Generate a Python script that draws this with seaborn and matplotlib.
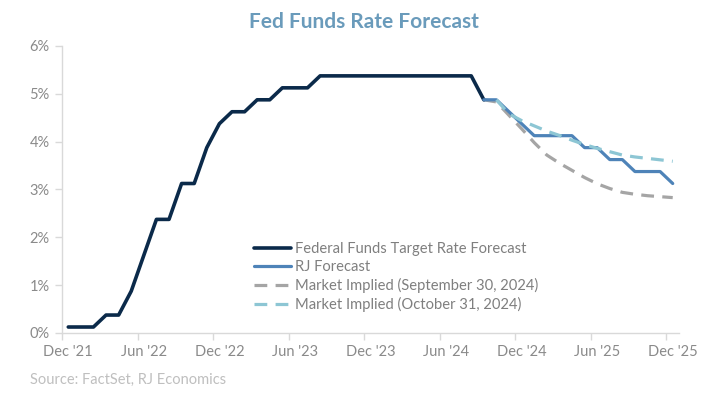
import numpy as np
import pandas as pd
import seaborn as sns
import matplotlib.pyplot as plt
from matplotlib.ticker import FixedLocator, FuncFormatter

# month index 0 = Dec 2021, 48 = Dec 2025
tick_months = [0, 6, 12, 18, 24, 30, 36, 42, 48]
tick_labels = ["Dec '21", "Jun '22", "Dec '22", "Jun '23", "Dec '23",
               "Jun '24", "Dec '24", "Jun '25", "Dec '25"]

fed_months = list(range(0, 34))
fed_rate = [0.125, 0.125, 0.125, 0.375, 0.375, 0.875, 1.625, 2.375, 2.375,
            3.125, 3.125, 3.875, 4.375, 4.625, 4.625, 4.875, 4.875, 5.125,
            5.125, 5.125, 5.375, 5.375, 5.375, 5.375, 5.375, 5.375, 5.375,
            5.375, 5.375, 5.375, 5.375, 5.375, 5.375, 4.875]

rj_months = list(range(33, 49))
rj_forecast = [4.875, 4.875, 4.625, 4.375, 4.125, 4.125, 4.125, 4.125,
               3.875, 3.875, 3.625, 3.625, 3.375, 3.375, 3.375, 3.125]

sep_months = list(range(33, 49))
market_sep30 = [4.875, 4.83, 4.55, 4.27, 3.98, 3.72, 3.55, 3.40,
                3.25, 3.12, 3.02, 2.94, 2.90, 2.87, 2.85, 2.83]

oct_months = list(range(34, 49))
market_oct31 = [4.875, 4.58, 4.44, 4.33, 4.22, 4.13, 4.03, 3.94,
                3.86, 3.79, 3.72, 3.68, 3.65, 3.62, 3.59]

sns.set_theme(style='white')
plt.rcParams['font.family'] = ['Lato', 'DejaVu Sans']

fig = plt.figure(figsize=(7.14, 3.93), dpi=100)
ax = fig.add_axes([0.0868, 0.1527, 0.8642, 0.7303])

sns.lineplot(x=fed_months, y=fed_rate, ax=ax, color='#0B2A4A', linewidth=2.6,
             label='Federal Funds Target Rate Forecast', errorbar=None, zorder=3)
sns.lineplot(x=rj_months, y=rj_forecast, ax=ax, color='#4E83B8', linewidth=2.3,
             label='RJ Forecast', errorbar=None, zorder=4)
sns.lineplot(x=sep_months, y=market_sep30, ax=ax, color='#A5A5A5', linewidth=2.3,
             label='Market Implied (September 30, 2024)', errorbar=None, zorder=2)
ax.lines[-1].set_dashes([4, 2.6])
sns.lineplot(x=oct_months, y=market_oct31, ax=ax, color='#8DC6D4', linewidth=2.3,
             label='Market Implied (October 31, 2024)', errorbar=None, zorder=5)
ax.lines[-1].set_dashes([4, 2.6])

ax.set_xlim(-0.5, 48.5)
ax.set_ylim(0, 6)
ax.set_xlabel('')
ax.set_ylabel('')

spine_color = '#D9D9D9'
text_color = '#8A8A8A'
for side in ['top', 'right']:
    ax.spines[side].set_visible(False)
for side in ['left', 'bottom']:
    ax.spines[side].set_color(spine_color)
    ax.spines[side].set_linewidth(1)

ax.xaxis.set_major_locator(FixedLocator(tick_months))
ax.set_xticklabels(tick_labels)
ax.xaxis.set_minor_locator(FixedLocator([m - 0.5 for m in tick_months]))
ax.tick_params(axis='x', which='major', length=0, pad=9, labelsize=10.5, labelcolor=text_color)
ax.tick_params(axis='x', which='minor', bottom=True, length=5, width=1, color=spine_color)

ax.set_yticks(range(0, 7))
ax.yaxis.set_major_formatter(FuncFormatter(lambda v, p: f'{int(v)}%'))
ax.tick_params(axis='y', which='major', left=True, length=5, width=1, color=spine_color,
               pad=4, labelsize=10.5, labelcolor=text_color)

leg = ax.legend(loc='upper left', bbox_to_anchor=(0.312, 0.318), frameon=False,
                fontsize=10.6, handlelength=2.5, handletextpad=0.25,
                labelspacing=0.28, borderaxespad=0, borderpad=0)
for t in leg.get_texts():
    t.set_color('#7F7F7F')

fig.text(0.51, 0.944, 'Fed Funds Rate Forecast', ha='center', va='center',
         fontsize=15, fontweight='bold', color='#6A9BBB')
fig.text(0.042, 0.033, 'Source: FactSet, RJ Economics', ha='left', va='center',
         fontsize=10.5, color='#BFBFBF')

fig.savefig('out.png', dpi=100)
